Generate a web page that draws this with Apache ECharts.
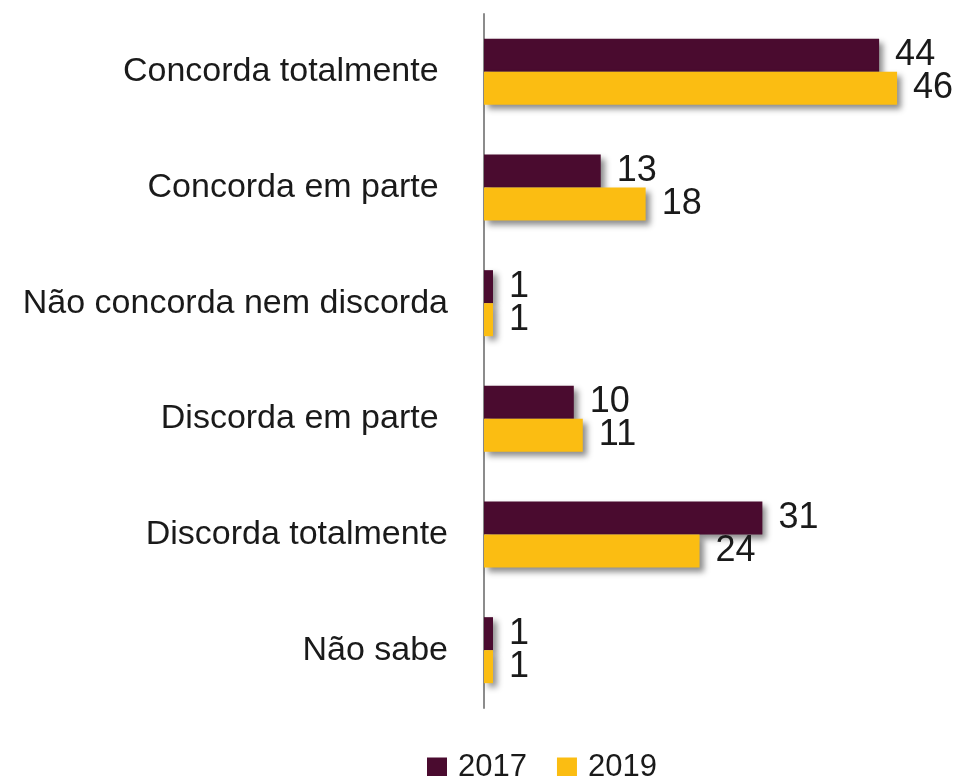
<!DOCTYPE html>
<html>
<head>
<meta charset="utf-8">
<script src="https://cdn.jsdelivr.net/npm/echarts@6/dist/echarts.min.js"></script>
<style>
  html, body { margin: 0; padding: 0; background: #fff; }
  #chart { width: 958px; height: 776px; }
</style>
</head>
<body>
<div id="chart"></div>
<script>
// Response categories (top to bottom)
const categories = [
  'Concorda totalmente ',
  'Concorda em parte ',
  'Não concorda nem discorda',
  'Discorda em parte ',
  'Discorda totalmente',
  'Não sabe'
];
const seriesNames = ['2017', '2019'];
const values2017 = [44, 13, 1, 10, 31, 1];
const values2019 = [46, 18, 1, 11, 24, 1];
const colors = ['#4a0b2f', '#fbbd12'];

const font = 'Liberation Sans, Arial, sans-serif';

function barSeries(name, data, color) {
  return {
    name: name,
    type: 'bar',
    data: data,
    barWidth: 33,
    barGap: '0%',
    itemStyle: {
      color: color,
      shadowColor: 'rgba(0,0,0,0.45)',
      shadowBlur: 6,
      shadowOffsetX: 4,
      shadowOffsetY: 4
    },
    label: {
      show: true,
      position: 'right',
      distance: 16,
      fontFamily: font,
      fontSize: 36,
      color: '#1a1a1a'
    }
  };
}

const chart = echarts.init(document.getElementById('chart'), null, { renderer: 'canvas' });
chart.setOption({
  animation: false,
  grid: { left: 484, right: 25, top: 14, height: 694 },
  legend: {
    top: 747,
    left: 422,
    itemWidth: 20,
    itemHeight: 20,
    itemGap: 30,
    icon: 'rect',
    textStyle: { fontFamily: font, fontSize: 31, color: '#1a1a1a', padding: [0, 0, 0, 6] },
    data: seriesNames
  },
  xAxis: {
    type: 'value',
    min: 0,
    max: 50,
    show: false
  },
  yAxis: {
    type: 'category',
    inverse: true,
    data: categories,
    axisLine: { show: true, lineStyle: { color: '#8c8c8c', width: 2 } },
    axisTick: { show: false },
    axisLabel: {
      margin: 36,
      fontFamily: font,
      fontSize: 34,
      color: '#1a1a1a'
    }
  },
  series: [
    barSeries(seriesNames[0], values2017, colors[0]),
    barSeries(seriesNames[1], values2019, colors[1])
  ]
});
</script>
</body>
</html>
